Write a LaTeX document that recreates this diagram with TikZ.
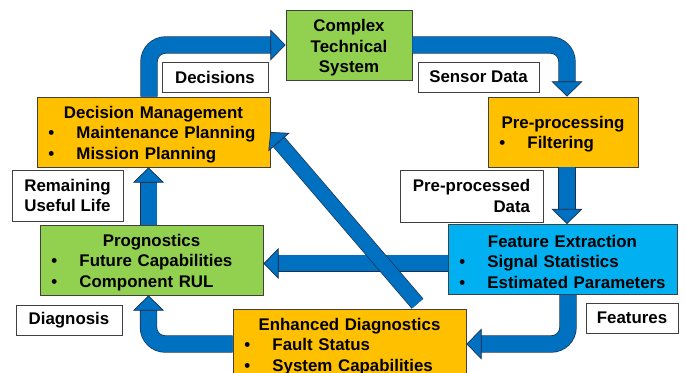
\documentclass[tikz,border=0pt]{standalone}
\usepackage{fontspec}
\setmainfont{Liberation Sans}
\usetikzlibrary{arrows.meta}
\definecolor{orng}{HTML}{FFC000}
\definecolor{grn}{HTML}{92D050}
\definecolor{cyn}{HTML}{00B0F0}
\definecolor{arrblue}{HTML}{0070C0}
\definecolor{arrline}{HTML}{1C2F4F}
\definecolor{boxline}{HTML}{404040}
\tikzset{
  blk/.style={draw=boxline, line width=0.6pt, inner xsep=0.345cm, inner ysep=0pt,
    minimum height=2.1cm, align=left, font=\bfseries\fontsize{14.4}{17.5}\selectfont},
  lbl/.style={draw=boxline, fill=white, line width=0.6pt, inner sep=0pt,
    minimum height=0.9cm, font=\bfseries\fontsize{14.4}{17.5}\selectfont},
  blockarrow/.style n args={3}{draw=arrblue, line width=#1, rounded corners=0.5cm,
    -{Triangle[length=#3, width=#2, line width=0.6pt, fill=arrblue, color=arrline]},
    preaction={draw=arrline, line width=#1+0.04cm, -, shorten >=#3-0.06cm}},
  fat/.style={blockarrow={0.48cm}{0.93cm}{0.46cm}},
  slim/.style={blockarrow={0.42cm}{0.84cm}{0.4cm}}
}
% first line gets a taller strut so the text sits a bit lower in its box
\newcommand{\ttl}[1]{\makebox[\linewidth]{\rule{0pt}{14.5pt}#1}}
\newcommand{\itm}[1]{\makebox[0.84cm][l]{\textbullet}\mbox{#1}}

\begin{document}
\begin{tikzpicture}[x=0.03cm, y=-0.03cm]
  \useasboundingbox (0,0) rectangle (686,373);
  \clip (0,0) rectangle (686,373);
  % boxes
  \node[blk, fill=grn, align=center, minimum width=3.78cm, inner xsep=0pt] (sys) at (349,45) {\rule{0pt}{15pt}Complex\\Technical\\System};
  \node[blk, fill=orng, text width=6.3cm] (dm) at (153.5,132) {\ttl{Decision Management}\\\itm{Maintenance Planning}\\\itm{Mission Planning}};
  \node[blk, fill=orng, text width=3.81cm] (pre) at (563,132) {\ttl{Pre-processing}\\\itm{Filtering}};
  \node[blk, fill=cyn, text width=6.18cm] (fe) at (562.5,259.5) {\ttl{Feature Extraction}\\\itm{Signal Statistics}\\\itm{Estimated Parameters}};
  \node[blk, fill=grn, text width=6.0cm] (prog) at (151.5,260) {\ttl{Prognostics}\\\itm{Future Capabilities}\\\itm{Component RUL}};
  \node[blk, fill=orng, text width=6.3cm] (enh) at (349.5,344) {\ttl{Enhanced Diagnostics}\\\itm{Fault Status}\\\itm{System Capabilities}};
  % labels
  \node[lbl, minimum width=3.18cm] (dec) at (215,77) {Decisions};
  \node[lbl, minimum width=3.63cm] (sens) at (478.5,77) {Sensor Data};
  \node[lbl, minimum width=4.29cm, minimum height=1.56cm, align=right] (ppd) at (471.5,196) {Pre-processed\\Data};
  \node[lbl, minimum width=3.33cm, minimum height=1.53cm, align=left] (rul) at (67.5,195.5) {Remaining\\Useful Life};
  \node[lbl, minimum width=2.76cm] (feat) at (632,318) {Features};
  \node[lbl, minimum width=3.18cm] (diag) at (69,320) {Diagnosis};
  % arrows
  \coordinate (dstart) at ([shift={(2.04cm,0.15cm)}]enh.north);
  \draw[fat] ([xshift=-0.135cm]dm.north) |- (sys.west);
  \draw[fat] (sys.east) -| ([xshift=0.12cm]pre.north);
  \draw[fat] ([xshift=0.12cm]pre.south) -- ([xshift=0.12cm]pre.south |- fe.north);
  \draw[fat] ([xshift=0.165cm]fe.south) |- (enh.east);
  \draw[fat] ([yshift=-0.12cm]fe.west) -- ([yshift=-0.12cm]fe.west -| prog.east);
  \draw[fat] (enh.west) -| ([xshift=-0.09cm]prog.south);
  \draw[fat] ([xshift=-0.09cm]prog.north) -- ([xshift=-0.09cm]prog.north |- dm.south);
  \draw[slim] (dstart) -- (dm.east);
\end{tikzpicture}
\end{document}
